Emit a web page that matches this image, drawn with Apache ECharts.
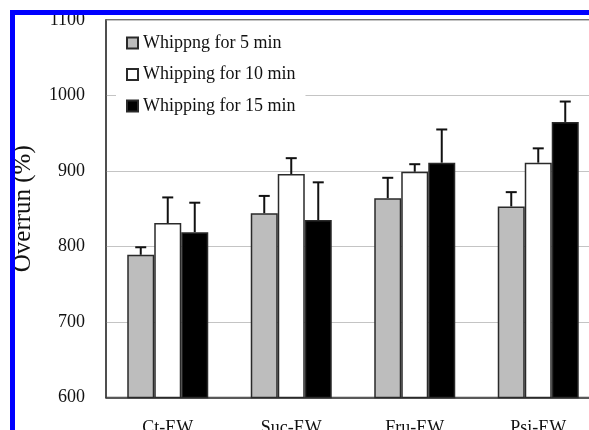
<!DOCTYPE html>
<html>
<head>
<meta charset="utf-8">
<script src="https://cdn.jsdelivr.net/npm/echarts@6/dist/echarts.min.js"></script>
<style>
  html, body { margin: 0; padding: 0; background: #fff; }
  #chart { width: 589px; height: 430px; }
</style>
</head>
<body>
<div id="chart"></div>
<script>
// Overrun of egg-white foams after different whipping times
const categories = ['Ct-EW', 'Suc-EW', 'Fru-EW', 'Psi-EW'];
const seriesNames = ['Whippng for 5 min', 'Whipping for 10 min', 'Whipping for 15 min'];
const whip5 = [789, 844, 864, 853];
const whip10 = [831, 896, 899, 911];
const whip15 = [819, 835, 911, 965];
const err5 = [10, 23, 27, 19];
const err10 = [34, 21, 10, 19];
const err15 = [39, 50, 44, 27];
const yTicks = [600, 700, 800, 900, 1000, 1100];

const values = [whip5, whip10, whip15];
const errors = [err5, err10, err15];
const fills = ['#bdbdbd', '#ffffff', '#000000'];
const FONT = '"Liberation Serif", "Times New Roman", serif';
const BAR_W = 27;

const chart = echarts.init(document.getElementById('chart'), null, { renderer: 'canvas' });

const barSeries = values.map((vals, i) => ({
  name: seriesNames[i],
  type: 'bar',
  data: vals,
  barWidth: BAR_W,
  barGap: '0%',
  itemStyle: { color: fills[i], borderColor: '#2a2a2a', borderWidth: 1.5 },
  z: 3
}));

// upper error bars, one custom series per whipping time
const errSeries = values.map((vals, i) => ({
  name: 'err' + i,
  type: 'custom',
  data: vals.map((v, k) => [k, v, v + errors[i][k]]),
  z: 2,
  renderItem: function (params, api) {
    const base = api.coord([api.value(0), api.value(1)]);
    const top = api.coord([api.value(0), api.value(2)]);
    const x = base[0] + (i - 1) * BAR_W;
    const cap = 5.5;
    const style = { stroke: '#111', lineWidth: 2 };
    return {
      type: 'group',
      children: [
        { type: 'line', shape: { x1: x, y1: base[1], x2: x, y2: top[1] }, style: style },
        { type: 'line', shape: { x1: x - cap, y1: top[1], x2: x + cap, y2: top[1] }, style: style }
      ]
    };
  }
}));

chart.setOption({
  animation: false,
  backgroundColor: '#ffffff',
  grid: {
    left: 106, top: 20, width: 494, height: 377.5,
    containLabel: false,
    outerBoundsMode: 'none',
    show: true, borderColor: '#444', borderWidth: 1.5, backgroundColor: 'transparent'
  },
  legend: {
    data: seriesNames,
    orient: 'vertical',
    left: 116, top: 28,
    padding: [6, 10],
    itemGap: 13.5,
    itemWidth: 11, itemHeight: 11,
    icon: 'rect',
    backgroundColor: '#ffffff',
    textStyle: { fontFamily: FONT, fontSize: 18, color: '#111', lineHeight: 18 }
  },
  xAxis: {
    type: 'category',
    data: categories,
    axisLine: { show: true, lineStyle: { color: '#333', width: 1.5 } },
    axisTick: { show: false },
    axisLabel: { fontFamily: FONT, fontSize: 18, color: '#111', margin: 22 }
  },
  yAxis: {
    type: 'value',
    min: yTicks[0], max: yTicks[yTicks.length - 1], interval: 100,
    name: 'Overrun (%)',
    nameLocation: 'middle',
    nameGap: 70,
    nameRotate: 90,
    nameTextStyle: { fontFamily: FONT, fontSize: 25, color: '#111' },
    axisLine: { show: true, lineStyle: { color: '#444', width: 1.5 } },
    axisTick: { show: false },
    axisLabel: { fontFamily: FONT, fontSize: 18, color: '#111', margin: 21, formatter: v => String(v) },
    splitLine: { show: true, lineStyle: { color: '#c4c4c4', width: 1.2 } }
  },
  graphic: [
    { type: 'rect', z: 100, shape: { x: 10, y: 10, width: 579, height: 5 }, style: { fill: '#0000ff' } },
    { type: 'rect', z: 100, shape: { x: 10, y: 10, width: 5, height: 420 }, style: { fill: '#0000ff' } }
  ],
  series: barSeries.concat(errSeries)
});
</script>
</body>
</html>
